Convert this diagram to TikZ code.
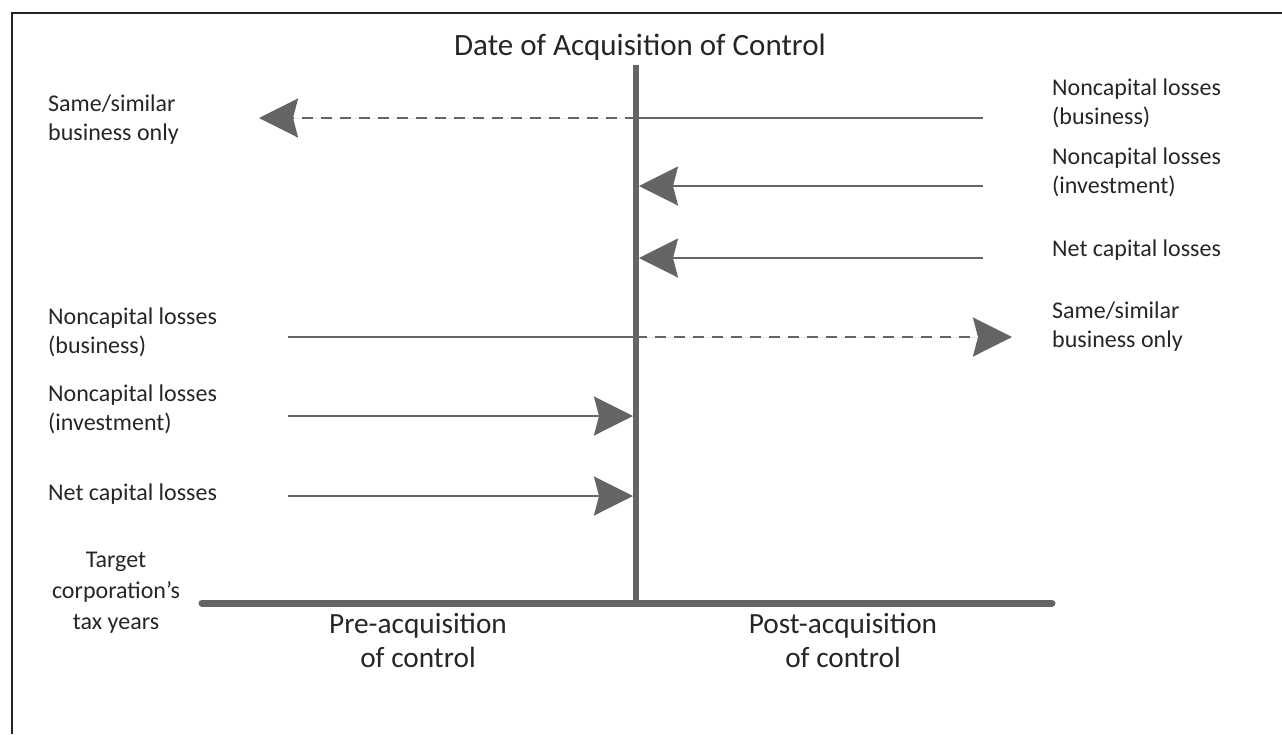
\documentclass[tikz,border=0pt]{standalone}
\usepackage{fontspec}
\setmainfont{Carlito}
\usetikzlibrary{arrows.meta}
\definecolor{lg}{HTML}{646464}
\begin{document}
\begin{tikzpicture}[x=1pt,y=-1pt,
  lab/.style={font=\fontsize{24}{28.5}\selectfont, align=left, anchor=base west, inner sep=0pt, text=black!85},
  big/.style={font=\fontsize{29.3}{34}\selectfont, align=center, inner sep=0pt, text=black!85},
  conn/.style={draw=lg, line width=2.5pt},
  tip/.style={-{Stealth[length=39pt,width=39pt,inset=5pt]}, draw=lg, fill=lg, line width=2.5pt},
  dsh/.style={dash pattern=on 11pt off 8pt}]
\useasboundingbox (0,0) rectangle (1282,734);
% frame
\draw[line width=2.5pt, black!85] (12,734) -- (12,13) -- (1282,13);
% axes
\coordinate (vtop) at (636,65);
\coordinate (vbot) at (636,603);
\coordinate (hl) at (202,603);
\coordinate (hr) at (1052,603);
\draw[draw=lg, line width=6.5pt] (vtop) -- (vbot);
\draw[draw=lg, line width=7pt, line cap=round] (hl) -- (hr);
\node[big, font=\fontsize{31}{36}\selectfont, anchor=base] (title) at (640,55) {Date of Acquisition of Control};
% (base anchor of a multi-line node = baseline of its last line)
\node[big, anchor=base] (pre) at (418,667) {Pre-acquisition\\of control};
\node[big, anchor=base] (post) at (843,667) {Post-acquisition\\of control};
% right labels
\node[lab] (rnb) at (1052,124) {Noncapital losses\\(business)};
\node[lab] (rni) at (1052,193) {Noncapital losses\\(investment)};
\node[lab] (rnc) at (1052,256) {Net capital losses};
\node[lab] (rss) at (1052,347) {Same/similar\\business only};
% left labels
\node[lab] (lss) at (48,140) {Same/similar\\business only};
\node[lab] (lnb) at (48,353) {Noncapital losses\\(business)};
\node[lab] (lni) at (48,430) {Noncapital losses\\(investment)};
\node[lab] (lnc) at (48,500) {Net capital losses};
\node[lab, font=\fontsize{24}{31}\selectfont, align=center, anchor=base] (tgt) at (116,629) {Target\\corporation’s\\tax years};
% arrow endpoints
\coordinate (a1s) at (983,118); \coordinate (a1m) at (636,118); \coordinate (a1e) at (259,118);
\coordinate (a2s) at (983,186); \coordinate (a2e) at (639,186);
\coordinate (a3s) at (983,258); \coordinate (a3e) at (639,258);
\coordinate (a4s) at (288,337); \coordinate (a4m) at (636,337); \coordinate (a4e) at (1012,337);
\coordinate (a5s) at (288,416); \coordinate (a5e) at (633,416);
\coordinate (a6s) at (288,496); \coordinate (a6e) at (633,496);
\draw[conn] (a1s) -- (a1m);
\draw[tip, dsh] (a1m) -- (a1e);
\draw[tip] (a2s) -- (a2e);
\draw[tip] (a3s) -- (a3e);
\draw[conn] (a4s) -- (a4m);
\draw[tip, dsh] (a4m) -- (a4e);
\draw[tip] (a5s) -- (a5e);
\draw[tip] (a6s) -- (a6e);
\end{tikzpicture}
\end{document}
